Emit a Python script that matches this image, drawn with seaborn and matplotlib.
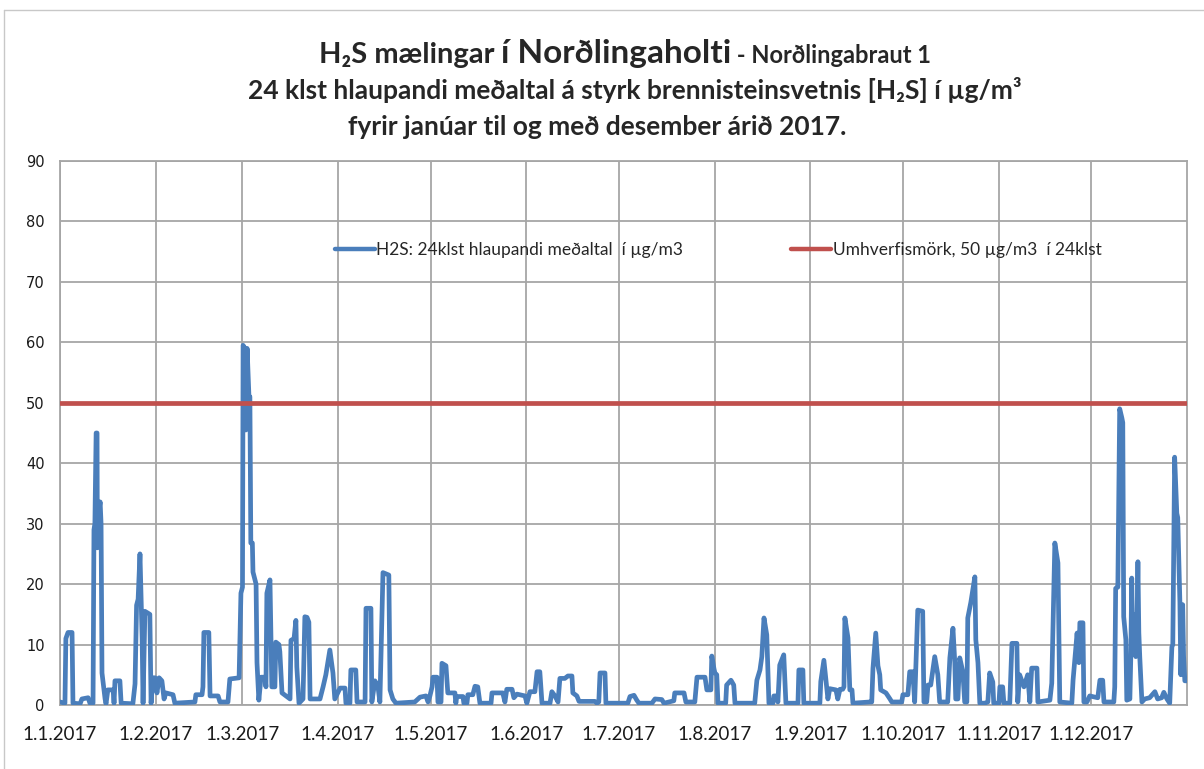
import numpy as np
import pandas as pd
import matplotlib
matplotlib.use("Agg")
import matplotlib.pyplot as plt
import seaborn as sns
from matplotlib.lines import Line2D

# day of year (days after 1.1.2017) and 24h running mean of H2S in ug/m3
days = [
    0, 1.6, 1.9, 2.6, 3.9, 4.2, 6.5, 7.1, 9.1, 9.7, 10.7, 11.0, 11.3, 11.7, 12.0, 12.1, 12.3, 13.0, 13.3, 13.6,
    14.6, 14.9, 15.5, 17.2, 17.5, 17.8, 19.4, 19.8, 23.6, 24.3, 24.8, 25.3, 25.9, 26.6, 26.9, 27.5, 29.1, 29.5, 30.1,
    30.8, 31.4, 32.1, 33.0, 33.7, 34.3, 36.6, 37.2, 43.7, 44.0, 46.0, 46.3, 46.6, 48.2, 48.6, 51.2, 51.8, 54.4,
    55.0, 58.0, 58.6,
    59.1, 59.3, 59.9, 60.2, 60.6, 61.2, 61.5, 61.8, 62.3, 62.5, 63.5, 63.8, 64.4, 65.1, 66.4, 66.7, 67.0, 68.0,
    68.6, 69.6, 69.9, 70.9, 71.2, 71.9, 74.5, 74.8, 75.8, 76.4, 76.7, 77.4, 78.7, 79.3, 80.0, 80.6, 81.0, 84.2,
    85.2, 86.1, 87.4, 88.4, 89.0,
    90.7, 92.3, 92.6, 93.9, 94.2, 95.8, 96.2, 98.8, 99.1, 100.7, 101.0, 102.0, 103.0, 103.6, 104.6, 106.5, 106.9,
    107.8, 108.8, 114.9, 116.6, 118.5, 119.2, 119.8,
    120.5, 120.8, 122.1, 122.4, 123.4, 123.7, 125.0, 125.6, 127.9, 128.2, 128.5, 130.5, 130.8, 131.8, 132.1,
    133.7, 134.4, 135.3, 136.0, 139.6, 139.9, 143.4, 144.1, 144.7, 146.4, 147.0, 148.0, 150.6,
    151.2, 152.2, 153.8, 154.5, 155.4, 156.1, 158.7, 159.3, 160.3, 161.3, 161.9, 163.5, 164.5, 165.8, 166.1,
    167.4, 168.1, 173.2, 173.9, 174.5, 174.9, 176.5, 176.8,
    183.9, 184.6, 185.9, 186.8, 187.5, 191.7, 192.7, 194.9, 195.6, 198.8, 199.1, 202.1, 202.7, 205.6, 206.3,
    208.9, 209.5, 210.8, 211.1, 211.8,
    212.1, 212.7, 213.1, 215.6, 215.9, 217.3, 218.2, 218.6, 225.0, 225.7, 226.7, 227.3, 228.0, 228.9, 229.6,
    230.9, 231.2, 232.2, 232.5, 233.1, 234.4, 235.1, 239.0, 239.3, 240.6, 240.9,
    246.1, 246.4, 247.4, 248.0, 248.7, 249.3, 251.3, 251.9, 252.6, 253.5, 253.9, 254.2, 255.2, 255.8, 256.5,
    256.8, 262.3, 262.9, 263.3, 264.2, 264.9, 265.5, 265.8, 267.5, 268.8, 269.4, 272.6,
    273.0, 274.6, 275.2, 276.2, 276.8, 277.8, 279.4, 279.8, 280.7, 281.1, 282.0, 283.3, 284.3, 284.9, 287.5,
    288.2, 289.2, 289.8, 290.1, 290.8, 291.4, 292.4, 293.0, 293.7, 294.0, 295.0, 296.3, 296.6, 297.3, 297.9,
    299.5, 300.5, 301.1, 302.1, 302.4,
    304.1, 304.4, 305.3, 305.7, 307.6, 308.3, 309.9, 310.2, 310.8, 312.2, 313.4, 314.1, 314.7, 316.4, 316.7,
    320.6, 321.2, 322.2, 323.2, 323.8, 327.7, 328.1, 329.4, 330.0, 330.3, 331.3, 331.6, 332.6, 333.5,
    336.1, 336.8, 337.7, 338.1, 341.3, 341.6, 341.9, 342.6, 343.2, 343.9, 344.2, 344.5, 345.2, 345.5, 346.5,
    346.8, 347.1, 347.4, 348.1, 348.4, 348.7, 349.1, 349.4, 349.7, 350.4, 351.3, 352.9, 354.6, 355.5, 356.8,
    357.5, 358.5, 359.4, 360.1, 360.4, 361.0, 361.7, 362.0, 362.7, 363.0, 363.6, 363.9, 364.3, 364.9,
]
h2s = [
    0.5, 0.3, 11, 12, 12, 0.3, 0.2, 1, 1.2, 0.3, 0.3, 29, 30, 45, 45, 26, 31, 33.6, 30, 5.3,
    1, 0.2, 2.5, 2.5, 0.3, 4, 4, 0.3, 0.2, 3.5, 16.5, 17.5, 25, 11, 0.3, 15.5, 15, 0.3, 4.5,
    4.5, 2, 4.5, 4, 1, 2, 1.7, 0.3, 0.5, 1.7, 1.7, 3, 12, 12, 1.5, 1.5, 0.5, 0.5,
    4.3, 4.5, 18.5,
    19.5, 59.5, 59, 45.5, 59, 51, 51, 26.8, 26.8, 22, 20, 7, 0.8, 4.6, 4.6, 3, 18.5, 20.7,
    3, 3, 10.4, 10, 8.8, 2, 1, 10.7, 11, 14, 6.3, 0.3, 1, 14.6, 14.5, 13.7, 1, 1,
    3, 5, 9.1, 5.3, 1,
    2.8, 2.8, 0.3, 0.3, 5.8, 5.8, 0.5, 0.5, 16, 16, 0.5, 4, 3, 0.5, 21.9, 21.5, 2.5,
    1, 0.3, 0.5, 1.3, 1.5, 0.5, 1.5,
    3, 4.6, 4.6, 0.5, 0.5, 6.9, 6.5, 2, 2, 0.3, 1.4, 1.4, 0.3, 0.3, 1.7,
    1.7, 3.1, 3, 0.3, 0.3, 2, 2, 0.5, 2.6, 2.6, 1.2, 1.8, 1.5,
    0.3, 2.2, 2.2, 5.5, 5.5, 0.3, 0.3, 2.2, 1.5, 0.5, 4.4, 4.4, 4.8, 4.8, 2,
    1.5, 0.6, 0.6, 0.3, 0.5, 5.3, 5.3, 0.3,
    0.3, 1.4, 1.6, 0.8, 0.3, 0.3, 1, 0.9, 0.3, 0.7, 2, 2, 0.5, 0.5, 4.6,
    4.6, 2.5, 2.5, 8.1, 6,
    5.3, 5, 0.3, 0.3, 3.3, 4.1, 3.3, 0.3, 0.3, 4.1, 5.8, 8, 14.4, 11.6, 0.3,
    0.3, 1.5, 1.5, 0.5, 6.6, 8.3, 0.3, 0.3, 5.8, 5.8, 0.3,
    0.3, 3.9, 7.4, 4.5, 1, 2.7, 2.5, 1, 2.6, 2.6, 3, 14.4, 11.1, 2.5, 2.5,
    0.3, 0.5, 0.5, 6.1, 11.9, 6.5, 5, 2.5, 2, 1, 0.5, 0.5,
    1.7, 1.7, 5.5, 5.5, 0.5, 15.7, 15.5, 0.5, 0.5, 3.3, 3.3, 8, 5, 0.5, 0.5,
    7.8, 12.7, 7, 1, 1, 7.8, 5.5, 0.5, 0.5, 14.4, 17, 21.2, 10.8, 7, 0.3,
    0.3, 0.5, 5.3, 3.8, 0.3,
    0.3, 3, 3, 0.3, 0.3, 10.2, 10.2, 0.5, 5, 3, 5, 0.5, 6.1, 6.1, 0.5,
    0.8, 3.6, 26.8, 23.5, 0.5, 0.3, 4.1, 11.9, 7, 13.6, 13.6, 0.5, 0.5, 1.5,
    1.2, 4.1, 4.1, 0.5, 0.5, 3, 19.3, 19.5, 49, 47.5, 46.7, 14.6, 10.8, 0.8, 1,
    8, 21, 10.2, 15, 8, 10, 23.7, 12, 8, 0.5, 1, 1.2, 2.2, 1, 1.2,
    2.1, 1, 0.3, 9.6, 10, 41, 31.7, 31, 17, 5, 16.6, 8, 4, 4,
]
limit = 50
tick_labels = ["1.1.2017", "1.2.2017", "1.3.2017", "1.4.2017", "1.5.2017", "1.6.2017",
               "1.7.2017", "1.8.2017", "1.9.2017", "1.10.2017", "1.11.2017", "1.12.2017"]
series_label = "H2S: 24klst hlaupandi meðaltal  í µg/m3"
limit_label = "Umhverfismörk, 50 µg/m3  í 24klst"

BLUE = "#4A7EBB"
RED = "#C0504D"
GRID = "#A6A6A6"

sns.set_theme(style="white")
plt.rcParams["font.family"] = ["Lato", "DejaVu Sans"]

start = pd.Timestamp("2017-01-01")
df = pd.DataFrame({"date": start + pd.to_timedelta(days, unit="D"), "h2s": h2s})

fig = plt.figure(figsize=(12.04, 7.69), dpi=100)
ax = fig.add_axes([60 / 1204, 1 - 705 / 769, 1127 / 1204, 544 / 769])

sns.lineplot(data=df, x="date", y="h2s", ax=ax, color=BLUE, lw=3.4, estimator=None,
             sort=False, label=series_label, zorder=3)
ax.axhline(limit, color=RED, lw=3.4, label=limit_label, zorder=4)

ax.set_xlim(start, pd.Timestamp("2018-01-01"))
ax.set_ylim(0, 90)
ax.set_yticks(range(0, 91, 10))
ax.set_xticks(pd.date_range("2017-01-01", periods=12, freq="MS"))
ax.set_xticklabels(tick_labels, fontsize=13.5, color="#1a1a1a")
for lab in ax.get_yticklabels():
    lab.set_family("DejaVu Sans")
    lab.set_fontsize(10.5)
    lab.set_color("#1a1a1a")
ax.tick_params(axis="x", length=0, pad=15)
ax.tick_params(axis="y", length=0, pad=11)
ax.set_xlabel("")
ax.set_ylabel("")
ax.grid(True, color=GRID, lw=1.3)
for sp in ax.spines.values():
    sp.set_color(GRID)
    sp.set_linewidth(1.3)

leg = ax.legend(loc="center", bbox_to_anchor=(0.584, 0.836), ncol=2, frameon=False, fontsize=12.5,
                handlelength=2.3, handletextpad=0.1, columnspacing=6.2)
for line in leg.get_lines():
    line.set_linewidth(3.2)

# title, first line has mixed font sizes
renderer = fig.canvas.get_renderer()
W, H = 1204, 769
center = 625
parts = [("H₂S mælingar ", 21), ("í Norðlingaholti", 24), (" - Norðlingabraut 1", 17)]
texts = [fig.text(0, 1 - 63 / H, s, fontsize=fs, fontweight="bold", va="baseline", ha="left")
         for s, fs in parts]
widths = [t.get_window_extent(renderer).width for t in texts]
x0 = center - sum(widths) / 2
for t, w in zip(texts, widths):
    t.set_x(x0 / W)
    x0 += w
fig.text(635 / W, 1 - 99 / H,
         "24 klst hlaupandi meðaltal á styrk brennisteinsvetnis [H₂S] í µg/m³",
         fontsize=19, fontweight="bold", ha="center", va="baseline")
fig.text(597 / W, 1 - 135 / H, "fyrir janúar til og með desember árið 2017.",
         fontsize=19, fontweight="bold", ha="center", va="baseline")

# chart frame
fig.add_artist(Line2D([4 / W, 1], [1 - 10 / H, 1 - 10 / H], color="#C8C8C8", lw=1))
fig.add_artist(Line2D([4 / W, 4 / W], [0, 1 - 10 / H], color="#C8C8C8", lw=1))

fig.savefig("out.png", dpi=100)
